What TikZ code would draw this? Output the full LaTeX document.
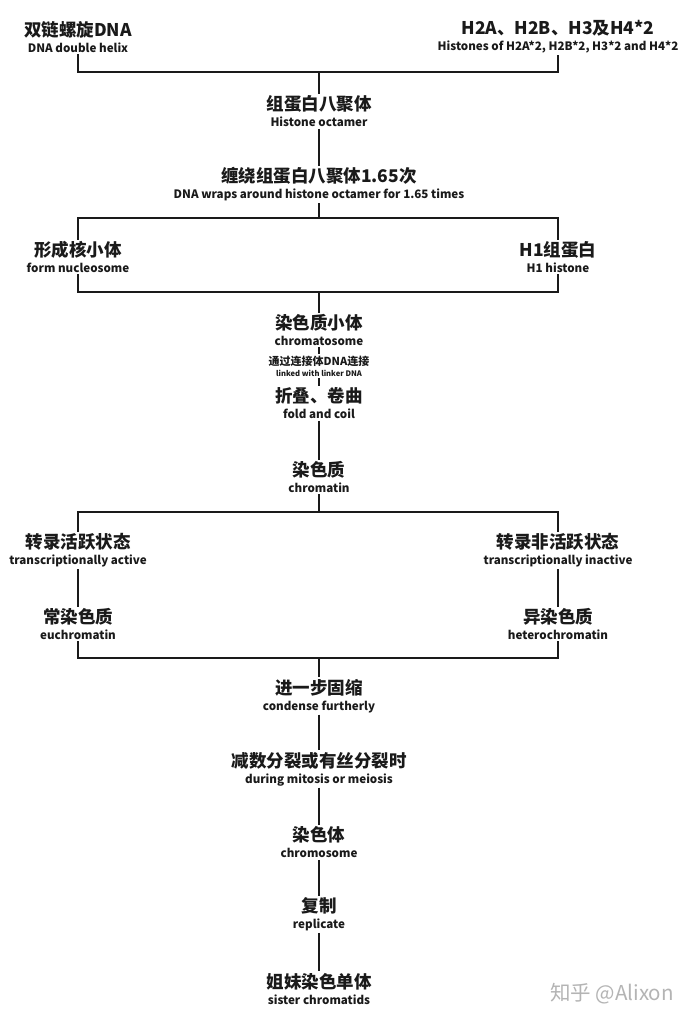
\documentclass[tikz,border=0pt]{standalone}
\usepackage{fontspec}
\setmainfont{Noto Sans CJK SC}
\newfontfamily\wmfont{Noto Sans CJK SC}
\newcommand\zhT{\bfseries\fontsize{17.5}{19.5}\selectfont}
\newcommand\enT{\bfseries\fontsize{11.6}{19.5}\selectfont}
\newcommand\zhS{\bfseries\fontsize{11}{11.5}\selectfont}
\newcommand\enS{\bfseries\fontsize{7.6}{11.5}\selectfont}
\newcommand\twol[2]{\zhT #1\\[4pt]\enT #2}
\definecolor{ink}{HTML}{1A1A1A}
\definecolor{wmgray}{HTML}{B4B4B4}
\tikzset{
  lbl/.style={align=center, inner sep=1.5pt, text=ink},
  link/.style={draw=ink, line width=1.8pt},
}
\begin{document}
\begin{tikzpicture}[x=1pt,y=-1pt]
\useasboundingbox (0,0) rectangle (693,1024);
\fill[white] (0,0) rectangle (693,1024);

\node[lbl] (dna) at (78,37) {\twol{双链螺旋DNA}{DNA double helix}};
\node[lbl] (his) at (558,37) {\twol{H2A、H2B、H3及H4*2}{Histones of H2A*2, H2B*2, H3*2 and H4*2}};
\node[lbl] (oct) at (319,111.5) {\twol{组蛋白八聚体}{Histone octamer}};
\node[lbl] (wrap) at (319,184.5) {\twol{缠绕组蛋白八聚体1.65次}{DNA wraps around histone octamer for 1.65 times}};
\node[lbl] (nuc) at (78,257) {\twol{形成核小体}{form nucleosome}};
\node[lbl] (h1) at (558,257) {\twol{H1组蛋白}{H1 histone}};
\node[lbl] (chs) at (319,330) {\twol{染色质小体}{chromatosome}};
\node[lbl] (lnk) at (319,366) {\zhS 通过连接体DNA连接\\[-1pt]\enS linked with linker DNA};
\node[lbl] (fold) at (319,403.5) {\twol{折叠、卷曲}{fold and coil}};
\node[lbl] (chr) at (319,477) {\twol{染色质}{chromatin}};
\node[lbl] (act) at (78,550.5) {\twol{转录活跃状态}{transcriptionally active}};
\node[lbl] (inact) at (558,550.5) {\twol{转录非活跃状态}{transcriptionally inactive}};
\node[lbl] (eu) at (78,624) {\twol{常染色质}{euchromatin}};
\node[lbl] (het) at (558,624) {\twol{异染色质}{heterochromatin}};
\node[lbl] (cond) at (319,696) {\twol{进一步固缩}{condense furtherly}};
\node[lbl] (mit) at (319,769) {\twol{减数分裂或有丝分裂时}{during mitosis or meiosis}};
\node[lbl] (chrom) at (319,842.5) {\twol{染色体}{chromosome}};
\node[lbl] (rep) at (319,914.5) {\twol{复制}{replicate}};
\node[lbl] (sis) at (319,988.5) {\twol{姐妹染色单体}{sister chromatids}};

\node[text=wmgray, inner sep=0pt] (wm) at (612,994) {\wmfont\fontsize{20.5}{20.5}\selectfont 知乎 @Alixon};

\coordinate (j1) at (319,72);
\coordinate (j2) at (319,218);
\coordinate (j3) at (319,292);
\coordinate (j4) at (319,512);
\coordinate (j5) at (319,658);

\draw[link] (dna.south) |- (j1) -| (his.south);
\draw[link] (j1) -- (oct.north);
\draw[link] (oct.south) -- (wrap.north);
\draw[link] (wrap.south) -- (j2);
\draw[link] (nuc.north) |- (j2) -| (h1.north);
\draw[link] (nuc.south) |- (j3) -| (h1.south);
\draw[link] (j3) -- (chs.north);
\draw[link] (chs.south) -- (lnk.north);
\draw[link] (lnk.south) -- (fold.north);
\draw[link] (fold.south) -- (chr.north);
\draw[link] (chr.south) -- (j4);
\draw[link] (act.north) |- (j4) -| (inact.north);
\draw[link] (act.south) -- (eu.north);
\draw[link] (inact.south) -- (het.north);
\draw[link] (eu.south) |- (j5) -| (het.south);
\draw[link] (j5) -- (cond.north);
\draw[link] (cond.south) -- (mit.north);
\draw[link] (mit.south) -- (chrom.north);
\draw[link] (chrom.south) -- (rep.north);
\draw[link] (rep.south) -- (sis.north);
\end{tikzpicture}
\end{document}
